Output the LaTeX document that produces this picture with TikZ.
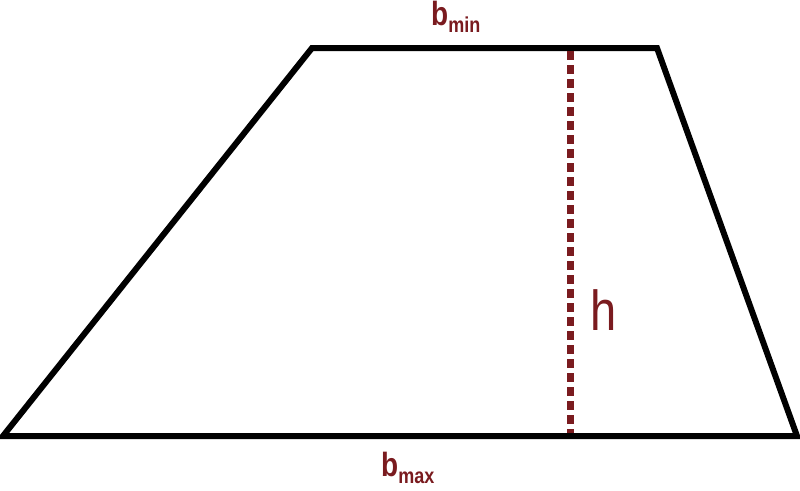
\documentclass[tikz,border=0pt]{standalone}
\usepackage{fontspec}
\usepackage{graphicx}
\setmainfont{Liberation Sans}
\usetikzlibrary{positioning}

\definecolor{darkred}{HTML}{7A1B1F}
\newcommand{\tallbox}[1]{\scalebox{1}[1.2]{#1}}
\newcommand{\sublabel}[1]{\raisebox{-6pt}{\fontsize{18}{18}\selectfont #1}}

\begin{document}
\begin{tikzpicture}[x=1pt,y=-1pt,
    edge/.style={line width=6pt, line join=miter},
    height/.style={darkred, line width=7pt, dash pattern=on 9pt off 5pt},
    dimlabel/.style={text=darkred, inner sep=0pt, anchor=base west}]
    \useasboundingbox (0,0) rectangle (800,490);

    % Corners
    \coordinate (bl) at (3,436);
    \coordinate (br) at (797,436);
    \coordinate (tl) at (312,48);
    \coordinate (tr) at (657,48);

    % Trapezoid
    \draw [edge] (bl) -- (tl) -- (tr) -- (br) -- cycle;

    % Height
    \coordinate (htop) at (570,51);
    \coordinate (hbot) at (570,433);
    \draw [height] (htop) -- (hbot);

    % Labels
    \node [dimlabel] (bmin) at (431,25)
        {\tallbox{\fontsize{28}{28}\selectfont\bfseries b\sublabel{min}}};
    \node [dimlabel] (bmax) at (381,476)
        {\tallbox{\fontsize{28}{28}\selectfont\bfseries b\sublabel{max}}};
    \node [dimlabel] (hlab) at (590,330)
        {\tallbox{\fontsize{47}{47}\selectfont h}};
\end{tikzpicture}
\end{document}
